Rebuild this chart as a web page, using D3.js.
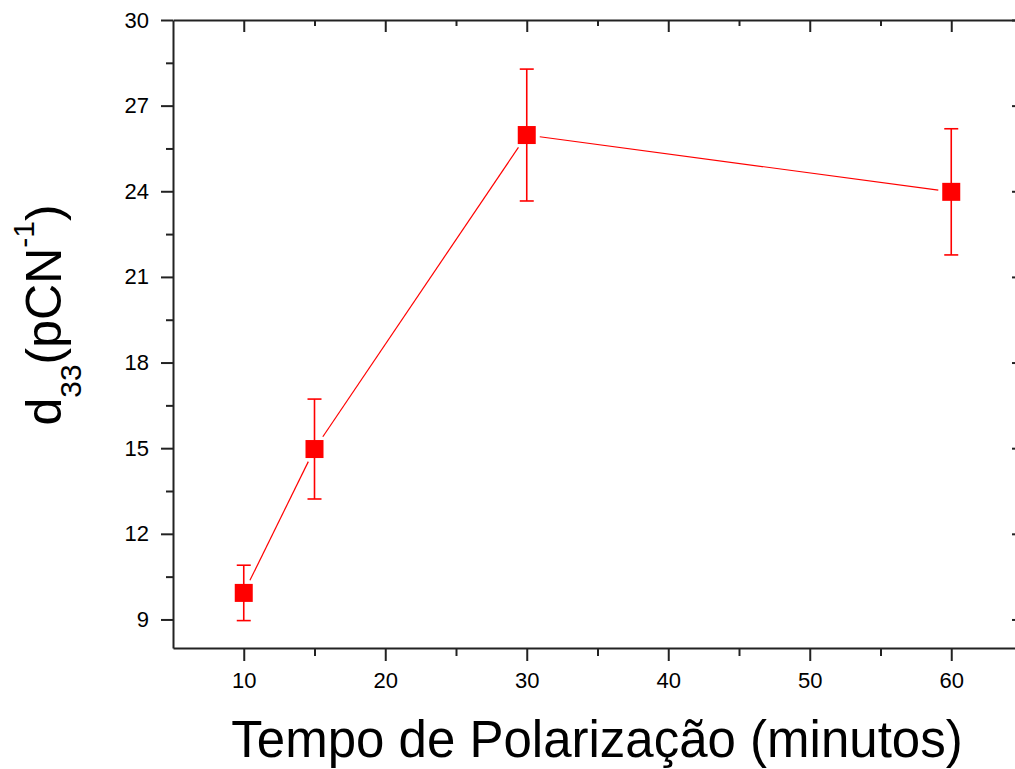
<!DOCTYPE html>
<html>
<head>
<meta charset="utf-8">
<script src="https://cdn.jsdelivr.net/npm/d3@7"></script>
<style>
  html, body { margin: 0; padding: 0; background: #fff; }
  svg { display: block; }
  text { font-family: "Liberation Sans", Arial, sans-serif; fill: #000; }
</style>
</head>
<body>
<svg id="chart" width="1015" height="769"></svg>
<script>
// Poling time (minutes) and measured d33 with its uncertainty
const times = [10, 15, 30, 60];
const d33 = [9.93, 14.97, 25.97, 23.98];
const d33Err = [0.97, 1.75, 2.31, 2.21];

const xMajorTicks = [10, 20, 30, 40, 50, 60];
const xMinorTicks = [15, 25, 35, 45, 55];
const yMajorTicks = [9, 12, 15, 18, 21, 24, 27, 30];
const yMinorTicks = [10.5, 13.5, 16.5, 19.5, 22.5, 25.5, 28.5];

const xTitle = "Tempo de Polarização (minutos)";

const svg = d3.select("#chart");
const plotL = 173, plotR = 1022, plotT = 20, plotB = 648;
const x = d3.scaleLinear().domain([5, 65]).range([plotL, plotR]);
const y = d3.scaleLinear().domain([8, 30]).range([plotB, plotT]);

const axisColor = "#222";
const red = "#ff0000";

function styleAxis(g) {
  g.selectAll("path.domain").attr("stroke", axisColor).attr("stroke-width", 2);
  g.selectAll(".tick line").attr("stroke", axisColor).attr("stroke-width", 2);
}

// Bottom axis (outward ticks, labelled)
const gB = svg.append("g").attr("transform", `translate(0,${plotB})`)
  .call(d3.axisBottom(x).tickValues(xMajorTicks).tickSize(13).tickSizeOuter(0).tickPadding(11).tickFormat(d3.format("d")));
gB.selectAll("text").attr("font-size", 22).attr("dy", "0.72em");
svg.append("g").attr("transform", `translate(0,${plotB})`)
  .call(d3.axisBottom(x).tickValues(xMinorTicks).tickSize(8).tickSizeOuter(0).tickFormat(""))
  .call(g => g.select("path.domain").remove())
  .call(styleAxis);
styleAxis(gB);

// Left axis (outward ticks, labelled)
const gL = svg.append("g").attr("transform", `translate(${plotL},0)`)
  .call(d3.axisLeft(y).tickValues(yMajorTicks).tickSize(12).tickSizeOuter(0).tickPadding(12).tickFormat(d3.format("d")));
gL.selectAll("text").attr("font-size", 22);
svg.append("g").attr("transform", `translate(${plotL},0)`)
  .call(d3.axisLeft(y).tickValues(yMinorTicks).tickSize(7).tickSizeOuter(0).tickFormat(""))
  .call(g => g.select("path.domain").remove())
  .call(styleAxis);
styleAxis(gL);

// Top axis (inward ticks, no labels)
const gT = svg.append("g").attr("transform", `translate(0,${plotT})`)
  .call(d3.axisTop(x).tickValues(xMajorTicks).tickSize(-12).tickSizeOuter(0).tickFormat(""));
svg.append("g").attr("transform", `translate(0,${plotT})`)
  .call(d3.axisTop(x).tickValues(xMinorTicks).tickSize(-6).tickSizeOuter(0).tickFormat(""))
  .call(g => g.select("path.domain").remove())
  .call(styleAxis);
styleAxis(gT);

// Right axis (inward ticks, no labels)
const gR = svg.append("g").attr("transform", `translate(${plotR},0)`)
  .call(d3.axisRight(y).tickValues(yMajorTicks).tickSize(-10).tickSizeOuter(0).tickFormat(""));
svg.append("g").attr("transform", `translate(${plotR},0)`)
  .call(d3.axisRight(y).tickValues(yMinorTicks).tickSize(-6).tickSizeOuter(0).tickFormat(""))
  .call(g => g.select("path.domain").remove())
  .call(styleAxis);
styleAxis(gR);

const pts = times.map((t, i) => ({ t, v: d33[i], e: d33Err[i], px: x(t), py: y(d33[i]) }));
const half = 9, gap = 4;

// Connecting line, stopping short of the markers
const segs = d3.pairs(pts).map(([a, b]) => {
  const dx = b.px - a.px, dy = b.py - a.py;
  const len = Math.hypot(dx, dy);
  const ux = dx / len, uy = dy / len;
  const trim = half / Math.max(Math.abs(ux), Math.abs(uy)) + gap;
  return { x1: a.px + ux * trim, y1: a.py + uy * trim, x2: b.px - ux * trim, y2: b.py - uy * trim };
});
svg.append("g").selectAll("line").data(segs).join("line")
  .attr("x1", d => d.x1).attr("y1", d => d.y1).attr("x2", d => d.x2).attr("y2", d => d.y2)
  .attr("stroke", red).attr("stroke-width", 1.2);

// Error bars
const capW = 7;
const eb = svg.append("g").attr("stroke", red).attr("stroke-width", 1.6);
eb.selectAll("line.v").data(pts).join("line").attr("class", "v")
  .attr("x1", d => d.px).attr("x2", d => d.px)
  .attr("y1", d => y(d.v - d.e)).attr("y2", d => y(d.v + d.e));
eb.selectAll("line.ct").data(pts).join("line").attr("class", "ct")
  .attr("x1", d => d.px - capW).attr("x2", d => d.px + capW)
  .attr("y1", d => y(d.v + d.e)).attr("y2", d => y(d.v + d.e));
eb.selectAll("line.cb").data(pts).join("line").attr("class", "cb")
  .attr("x1", d => d.px - capW).attr("x2", d => d.px + capW)
  .attr("y1", d => y(d.v - d.e)).attr("y2", d => y(d.v - d.e));

// Square markers
svg.append("g").selectAll("rect").data(pts).join("rect")
  .attr("x", d => d.px - half).attr("y", d => d.py - half)
  .attr("width", half * 2).attr("height", half * 2)
  .attr("fill", red);

// Axis titles
svg.append("text").attr("x", 597).attr("y", 757).attr("text-anchor", "middle")
  .attr("font-size", 51).text(xTitle);

const yt = svg.append("text").attr("transform", "translate(61,315) rotate(-90)")
  .attr("text-anchor", "middle").attr("font-size", 50);
yt.append("tspan").text("d");
yt.append("tspan").attr("font-size", 30).attr("dy", 20).text("33");
yt.append("tspan").attr("dy", -20).text("(pCN");
yt.append("tspan").attr("font-size", 30).attr("dy", -27).text("-1");
yt.append("tspan").attr("dy", 27).text(")");
</script>
</body>
</html>
